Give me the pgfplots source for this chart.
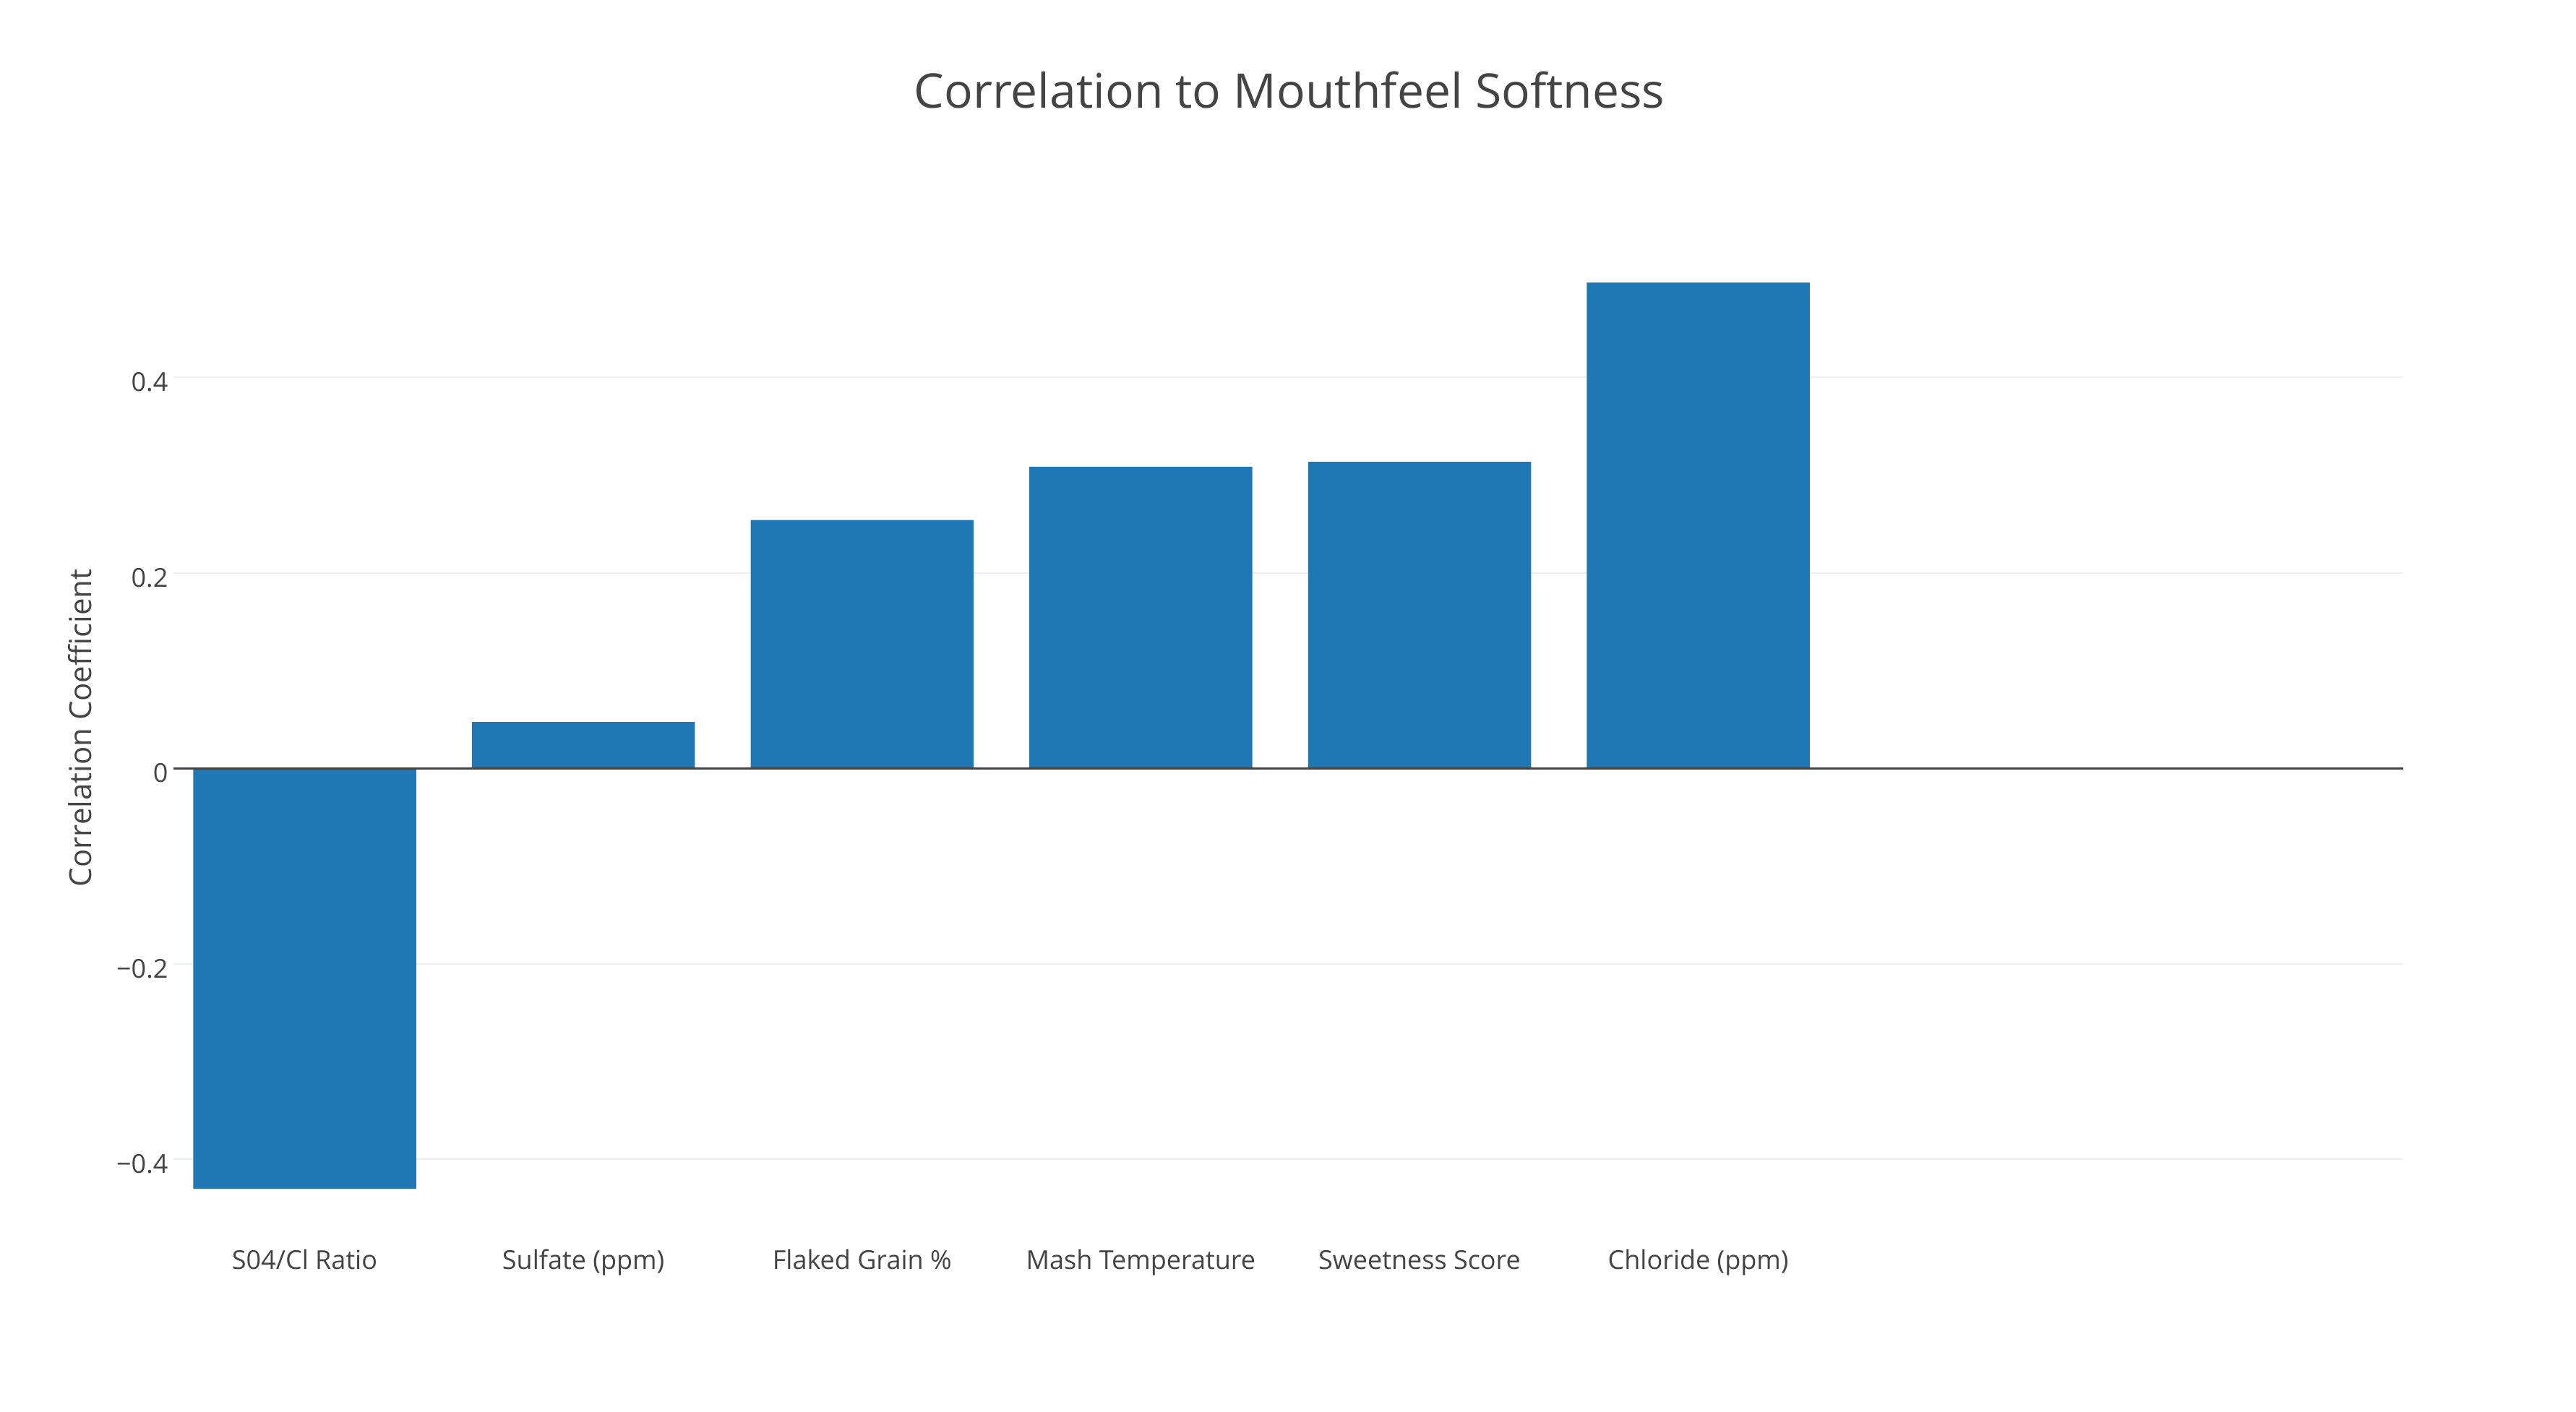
\documentclass[border=0pt]{standalone}
\usepackage{pgfplots}
\pgfplotsset{compat=1.18}
\usepackage{fontspec}
\setmainfont{Open Sans}
\definecolor{barc}{HTML}{1F77B4}
\definecolor{txt}{HTML}{444444}
\definecolor{grd}{HTML}{EEEEEE}
\begin{document}
\begin{tikzpicture}
\path[use as bounding box, fill=white] (0,0) rectangle (891pt,488.25pt);
\begin{axis}[
  at={(60pt,60.1pt)}, anchor=south west,
  scale only axis, width=771.25pt, height=351.7pt,
  xmin=-0.4707, xmax=7.5293, ymin=-0.48, ymax=0.56,
  axis line style={draw=none},
  ybar, bar width=0.8,
  xtick={0,1,2,3,4,5},
  xticklabels={S04/Cl Ratio, Sulfate (ppm), Flaked Grain \%, Mash Temperature, Sweetness Score, Chloride (ppm)},
  ytick={-0.4,-0.2,0,0.2,0.4},
  yticklabels={−0.4,−0.2,0,0.2,0.4},
  major tick length=0pt,
  ymajorgrids, grid style={grd, line width=0.55pt},
  tick label style={font=\fontsize{9}{10}\selectfont, text=txt},
  xticklabel style={anchor=base, inner sep=0pt, yshift=-10.9pt},
  yticklabel style={anchor=base east, inner sep=0pt, xshift=-1.7pt, yshift=-4.9pt},
  clip=false,
]
\addplot[fill=barc, draw=none] coordinates {(0,-0.430) (1,0.0475) (2,0.254) (3,0.3085) (4,0.3135) (5,0.497)};
\draw[txt, line width=0.67pt] (axis cs:-0.4707,0) -- (axis cs:7.5293,0);
\end{axis}
\node[rotate=90, anchor=base, inner sep=0pt, font=\fontsize{10.5}{12}\selectfont, text=txt] at (31.5pt,236.4pt) {Correlation Coefficient};
\node[anchor=base, inner sep=0pt, font=\fontsize{16.5}{19}\selectfont, text=txt] at (446pt,450.75pt) {Correlation to Mouthfeel Softness};
\end{tikzpicture}
\end{document}
